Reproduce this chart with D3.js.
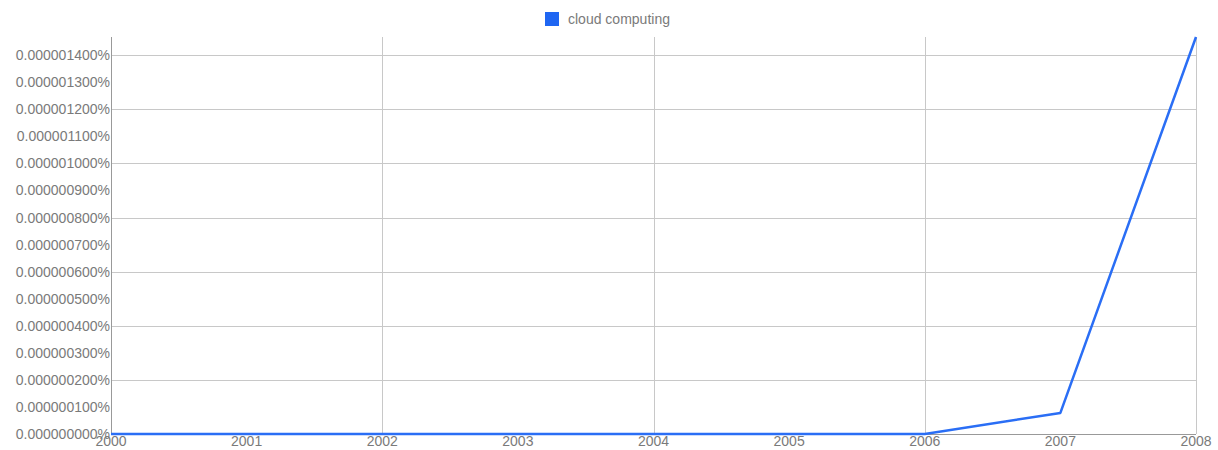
<!DOCTYPE html>
<html>
<head>
<meta charset="utf-8">
<script src="https://cdn.jsdelivr.net/npm/d3@7"></script>
<style>
body { margin: 0; background: #fff; }
text { font-family: "Liberation Sans", Arial, sans-serif; }
</style>
</head>
<body>
<svg id="main" width="1218" height="450"></svg>
<script>
// values are in percent
var years = [2000, 2001, 2002, 2003, 2004, 2005, 2006, 2007, 2008]
var cloud = [0, 0, 0, 0, 0, 0, 0, 0.000000078, 0.000001467]
var yTicks = [0, 1e-7, 2e-7, 3e-7, 4e-7, 5e-7, 6e-7, 7e-7, 8e-7, 9e-7, 10e-7, 11e-7, 12e-7, 13e-7, 14e-7]
var seriesName = "cloud computing"

svg = d3.select("#main")

var x = d3.scaleLinear().domain([2000, 2008]).range([111, 1196])
var y = d3.scaleLinear().domain([0, 0.000001467]).range([434, 37])

// horizontal grid every 200
svg.append("g").selectAll("line")
  .data(yTicks.filter(function(d, i) { return i % 2 == 0 && i > 0 }))
  .enter().append("line")
  .attr("x1", 111).attr("x2", 1196)
  .attr("y1", function(d) { return Math.round(y(d)) + 0.5 })
  .attr("y2", function(d) { return Math.round(y(d)) + 0.5 })
  .attr("stroke", "#c8c8c8")

// vertical grid on even years
svg.append("g").selectAll("line")
  .data(years.filter(function(d) { return d % 2 == 0 && d > 2000 }))
  .enter().append("line")
  .attr("x1", function(d) { return Math.round(x(d)) + 0.5 })
  .attr("x2", function(d) { return Math.round(x(d)) + 0.5 })
  .attr("y1", 37).attr("y2", 434)
  .attr("stroke", "#c8c8c8")

// left axis line
svg.append("line").attr("x1", 111.5).attr("x2", 111.5).attr("y1", 37).attr("y2", 434)
  .attr("stroke", "#999")
svg.append("line").attr("x1", 111).attr("x2", 1196).attr("y1", 434.5).attr("y2", 434.5)
  .attr("stroke", "#999")

// y labels
svg.append("g").selectAll("text")
  .data(yTicks)
  .enter().append("text")
  .attr("x", 110)
  .attr("y", function(d) { return y(d) + 5 })
  .attr("text-anchor", "end")
  .attr("font-size", 14)
  .attr("fill", "#7a7a7a")
  .text(function(d) { return d.toFixed(9) + "%" })

// x labels
svg.append("g").selectAll("text")
  .data(years)
  .enter().append("text")
  .attr("x", function(d) { return x(d) })
  .attr("y", 446)
  .attr("text-anchor", "middle")
  .attr("font-size", 14)
  .attr("fill", "#7a7a7a")
  .text(function(d) { return d })

// line
var line = d3.line()
  .x(function(d, i) { return x(years[i]) })
  .y(function(d) { return y(d) })
svg.append("path").attr("d", line(cloud))
  .attr("fill", "none")
  .attr("stroke", "#2a6ef5")
  .attr("stroke-width", 2.5)
  .attr("stroke-linejoin", "round")

// legend
svg.append("rect").attr("x", 545).attr("y", 12).attr("width", 14).attr("height", 14)
  .attr("fill", "#1f66f2")
svg.append("text").attr("x", 568).attr("y", 24)
  .attr("font-size", 14).attr("fill", "#7a7a7a")
  .text(seriesName)
</script>
</body>
</html>
